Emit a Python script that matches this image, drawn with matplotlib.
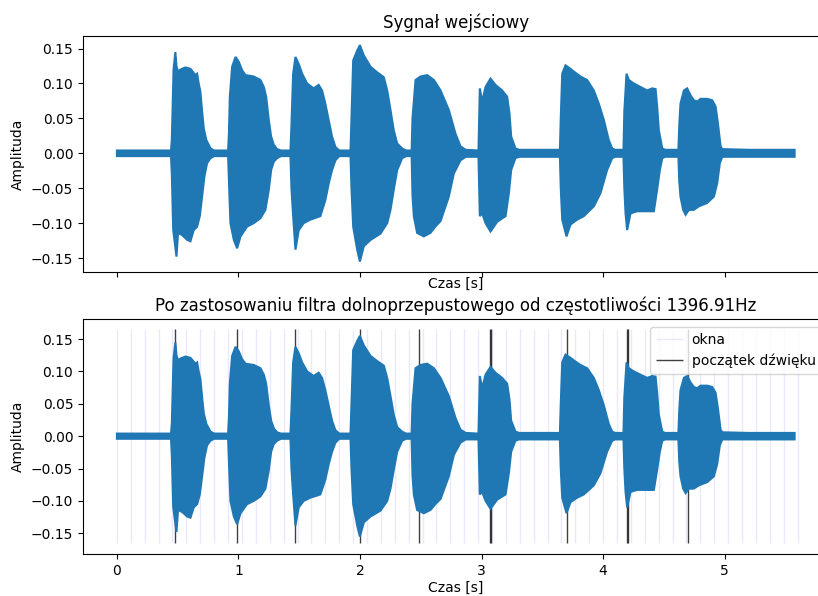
import matplotlib
matplotlib.use('Agg')
import matplotlib.pyplot as plt
import numpy as np

# obwiednia sygnalu (czas [s], amplituda)
czas_gora = [0.0, 0.30, 0.445,
             0.452, 0.466, 0.481, 0.490, 0.503, 0.523, 0.564, 0.605, 0.646, 0.660, 0.673, 0.687, 0.701, 0.715, 0.736, 0.770, 0.80, 0.915,
             0.922, 0.929, 0.948, 0.976, 1.003, 1.030, 1.058, 1.126, 1.181, 1.209, 1.228, 1.250, 1.269, 1.291, 1.318, 1.35, 1.428,
             1.436, 1.450, 1.469, 1.496, 1.524, 1.565, 1.619, 1.660, 1.688, 1.715, 1.743, 1.770, 1.798, 1.83, 1.922,
             1.930, 1.944, 1.977, 1.999, 2.032, 2.087, 2.141, 2.196, 2.224, 2.251, 2.278, 2.306, 2.347, 2.38, 2.425,
             2.432, 2.457, 2.498, 2.553, 2.608, 2.663, 2.731, 2.786, 2.827, 2.87, 2.975,
             2.982, 2.986, 3.005, 3.033, 3.074, 3.115, 3.170, 3.211, 3.230, 3.244, 3.279, 3.31, 3.645,
             3.652, 3.664, 3.691, 3.732, 3.760, 3.814, 3.869, 3.924, 3.965, 4.006, 4.047, 4.075, 4.10, 4.168,
             4.175, 4.193, 4.212, 4.253, 4.308, 4.363, 4.404, 4.432, 4.445, 4.459, 4.487, 4.51, 4.620,
             4.627, 4.637, 4.665, 4.692, 4.720, 4.747, 4.775, 4.802, 4.857, 4.898, 4.926, 4.945, 4.967, 4.981, 5.2, 5.576]
amp_gora = [0.004, 0.004, 0.004,
            0.02, 0.12, 0.145, 0.125, 0.117, 0.120, 0.123, 0.121, 0.112, 0.114, 0.100, 0.088, 0.060, 0.035, 0.019, 0.007, 0.004, 0.004,
            0.03, 0.081, 0.124, 0.138, 0.131, 0.119, 0.112, 0.110, 0.105, 0.095, 0.081, 0.047, 0.024, 0.012, 0.006, 0.004, 0.004,
            0.04, 0.114, 0.138, 0.128, 0.114, 0.100, 0.093, 0.098, 0.090, 0.071, 0.047, 0.024, 0.009, 0.004, 0.004,
            0.05, 0.133, 0.147, 0.155, 0.140, 0.124, 0.116, 0.109, 0.090, 0.062, 0.033, 0.014, 0.007, 0.004, 0.004,
            0.05, 0.105, 0.110, 0.112, 0.105, 0.090, 0.062, 0.028, 0.010, 0.005, 0.004,
            0.06, 0.093, 0.074, 0.095, 0.107, 0.098, 0.090, 0.081, 0.057, 0.024, 0.007, 0.005, 0.005,
            0.05, 0.114, 0.126, 0.121, 0.117, 0.110, 0.105, 0.090, 0.071, 0.048, 0.019, 0.007, 0.005, 0.005,
            0.06, 0.114, 0.105, 0.100, 0.095, 0.090, 0.093, 0.092, 0.067, 0.033, 0.007, 0.005, 0.005,
            0.04, 0.071, 0.090, 0.093, 0.083, 0.076, 0.074, 0.078, 0.078, 0.076, 0.067, 0.043, 0.010, 0.006, 0.005, 0.005]

czas_dol = [0.0, 0.445,
            0.452, 0.463, 0.490, 0.503, 0.536, 0.578, 0.605, 0.632, 0.660, 0.682, 0.701, 0.720, 0.742, 0.770, 0.80, 0.915,
            0.922, 0.934, 0.962, 0.989, 1.017, 1.071, 1.126, 1.181, 1.222, 1.250, 1.269, 1.291, 1.318, 1.35, 1.428,
            1.436, 1.450, 1.469, 1.496, 1.537, 1.592, 1.674, 1.715, 1.743, 1.770, 1.798, 1.83, 1.922,
            1.930, 1.944, 1.977, 1.999, 2.032, 2.087, 2.169, 2.224, 2.251, 2.278, 2.306, 2.347, 2.38, 2.425,
            2.432, 2.443, 2.470, 2.525, 2.580, 2.620, 2.663, 2.731, 2.772, 2.827, 2.87, 2.975,
            2.982, 2.986, 3.005, 3.033, 3.074, 3.129, 3.198, 3.225, 3.244, 3.279, 3.31, 3.645,
            3.652, 3.664, 3.699, 3.732, 3.787, 3.842, 3.924, 3.979, 4.033, 4.075, 4.10, 4.168,
            4.175, 4.185, 4.198, 4.226, 4.281, 4.363, 4.418, 4.445, 4.467, 4.487, 4.51, 4.620,
            4.627, 4.637, 4.659, 4.679, 4.706, 4.747, 4.788, 4.857, 4.912, 4.939, 4.961, 4.981, 5.2, 5.576]
amp_dol = [-0.004, -0.004,
           -0.03, -0.109, -0.148, -0.114, -0.117, -0.124, -0.126, -0.110, -0.105, -0.090, -0.062, -0.033, -0.014, -0.007, -0.004, -0.004,
           -0.04, -0.100, -0.124, -0.136, -0.119, -0.105, -0.100, -0.093, -0.081, -0.052, -0.024, -0.012, -0.007, -0.004, -0.004,
           -0.05, -0.090, -0.138, -0.110, -0.100, -0.095, -0.090, -0.067, -0.043, -0.024, -0.010, -0.004, -0.004,
           -0.05, -0.105, -0.138, -0.155, -0.133, -0.124, -0.115, -0.100, -0.081, -0.052, -0.024, -0.007, -0.004, -0.004,
           -0.06, -0.090, -0.114, -0.119, -0.114, -0.105, -0.097, -0.062, -0.029, -0.010, -0.005, -0.005,
           -0.06, -0.090, -0.086, -0.100, -0.112, -0.098, -0.090, -0.057, -0.024, -0.007, -0.005, -0.005,
           -0.05, -0.095, -0.119, -0.102, -0.095, -0.090, -0.076, -0.057, -0.024, -0.007, -0.005, -0.005,
           -0.05, -0.086, -0.110, -0.086, -0.083, -0.083, -0.083, -0.052, -0.024, -0.007, -0.005, -0.005,
           -0.04, -0.062, -0.081, -0.088, -0.081, -0.081, -0.076, -0.071, -0.062, -0.043, -0.014, -0.005, -0.005, -0.005]

# poczatki okien analizy [s]
okna = [0.000, 0.114, 0.229, 0.343, 0.457, 0.572, 0.686, 0.800, 0.914, 1.029,
        1.143, 1.257, 1.372, 1.486, 1.600, 1.715, 1.829, 1.943, 2.057, 2.172,
        2.286, 2.400, 2.515, 2.629, 2.743, 2.858, 2.972, 3.086, 3.200, 3.315,
        3.429, 3.543, 3.658, 3.772, 3.886, 4.001, 4.115, 4.229, 4.343, 4.458,
        4.572, 4.686, 4.801, 4.915, 5.029, 5.144, 5.258, 5.372, 5.486, 5.601]

# wykryte poczatki dzwiekow [s]
poczatki = [0.481, 0.989, 1.469, 2.000, 2.484, 3.068, 3.080, 3.705, 4.199, 4.207, 4.701]

czestotliwosc = 1396.91
kolor = '#1f77b4'

fig = plt.figure(figsize=(8.18, 5.96), dpi=100)
# os prawa wychodzi poza obrazek, tak jak na oryginale
ax1 = fig.add_axes([83/818, 1 - 272/596, 746/818, 236/596])
ax2 = fig.add_axes([83/818, 1 - 554/596, 746/818, 235/596], sharex=ax1)

obwiednia_x = np.concatenate([czas_gora, czas_dol[::-1]])
obwiednia_y = np.concatenate([amp_gora, amp_dol[::-1]])

# sygnal wejsciowy
ax1.fill(obwiednia_x, obwiednia_y, color=kolor, lw=1.5, zorder=3)
ax1.set_title('Sygnał wejściowy')
ax1.set_xlabel('Czas [s]', labelpad=0)
ax1.set_ylabel('Amplituda')
ax1.set_ylim(-0.170, 0.168)
ax1.tick_params(labelbottom=False)

# po filtrze
ax2.vlines(okna, -0.165, 0.165, color='blue', alpha=0.09, lw=1, label='okna')
ax2.vlines(poczatki, -0.165, 0.165, color='k', alpha=0.75, lw=1, label='początek dźwięku')
ax2.fill(obwiednia_x, obwiednia_y, color=kolor, lw=1.5, zorder=3)
ax2.set_title('Po zastosowaniu filtra dolnoprzepustowego od częstotliwości %.2fHz' % czestotliwosc)
ax2.set_xlabel('Czas [s]', labelpad=2)
ax2.set_ylabel('Amplituda')
ax2.set_ylim(-0.182, 0.181)
ax2.set_xlim(-0.279, 5.859)
ax2.legend(loc='upper left', bbox_to_anchor=(650/818, 1 - 327/596),
           bbox_transform=fig.transFigure, borderaxespad=0, handletextpad=0.6)

for ax in (ax1, ax2):
    ax.set_yticks([-0.15, -0.10, -0.05, 0.00, 0.05, 0.10, 0.15])
ax2.set_xticks([0, 1, 2, 3, 4, 5])

plt.savefig('out.png', dpi=100)
